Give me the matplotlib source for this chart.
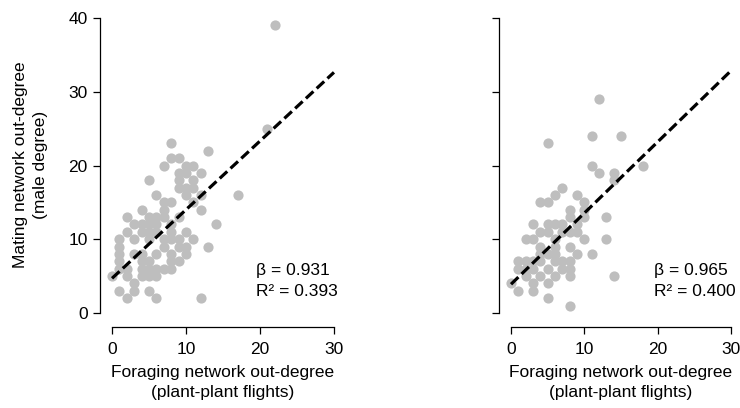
import matplotlib
matplotlib.use("Agg")
import matplotlib.pyplot as plt
import numpy as np

plt.rcParams['font.family'] = ['Liberation Sans', 'DejaVu Sans']

# Male degree vs. foraging out-degree, first network
forage_a = [22, 21, 8, 13, 8, 9, 7, 10, 11, 9, 10, 12, 5, 9, 11, 9, 10, 11, 17, 6,
            10, 12, 7, 8, 11, 12, 4, 7, 2, 5, 6, 7, 9, 14, 3, 4, 5, 6, 8, 2,
            4, 5, 6, 8, 10, 1, 5, 7, 8, 9, 13, 1, 7, 9, 10, 1, 3, 4, 6, 8,
            10, 1, 4, 5, 8, 9, 1, 2, 4, 5, 6, 8, 0, 2, 4, 5, 6, 3, 1, 3,
            5, 2, 6, 12, 3, 7, 11]
mating_a = [39, 25, 23, 22, 21, 21, 20, 20, 20, 19, 19, 19, 18, 18, 18, 17, 17, 17, 16, 16,
            16, 16, 15, 15, 15, 14, 14, 14, 13, 13, 13, 13, 13, 12, 12, 12, 12, 12, 12, 11,
            11, 11, 11, 11, 11, 10, 10, 10, 10, 10, 9, 9, 9, 9, 9, 8, 8, 8, 8, 8,
            8, 7, 7, 7, 7, 7, 6, 6, 6, 6, 6, 6, 5, 5, 5, 5, 5, 4, 3, 3,
            3, 2, 2, 2, 10, 6, 10]

# Second network
forage_b = [12, 11, 15, 5, 11, 18, 12, 14, 14, 7, 6, 9, 4, 5, 10, 8, 10, 13, 3, 5,
            6, 7, 8, 10, 2, 3, 10, 13, 4, 5, 8, 6, 8, 9, 11, 1, 2, 3, 4, 6,
            7, 8, 1, 3, 5, 7, 8, 14, 0, 3, 5, 2, 4, 6, 8, 1, 3, 5, 8, 4,
            5, 9, 6, 7, 4, 2, 6, 9]
mating_b = [29, 24, 24, 23, 20, 20, 19, 19, 18, 17, 16, 16, 15, 15, 15, 14, 14, 13, 12, 12,
            12, 12, 13, 13, 10, 10, 10, 10, 11, 11, 11, 9, 9, 8, 8, 7, 7, 7, 7, 7,
            7, 7, 6, 6, 6, 6, 6, 5, 4, 4, 4, 5, 5, 5, 5, 3, 3, 2, 1, 8,
            8, 12, 10, 11, 9, 6, 8, 11]

# Fitted slopes, fit statistics and intercepts
beta = [0.931, 0.965]
r2 = [0.393, 0.400]
intercept = [4.7, 3.9]

x_ticks = [0, 10, 20, 30]
y_ticks = [0, 10, 20, 30, 40]

FS = 12.5
W, H = 740, 408
fig = plt.figure(figsize=(W / 100, H / 100), dpi=100)

def px_axes(left, right, bottom, top):
    return fig.add_axes([left / W, (H - bottom) / H, (right - left) / W, (bottom - top) / H])

def px_text(x, y, s, **kw):
    fig.text(x / W, 1 - y / H, s, fontsize=FS, **kw)

ax_a = px_axes(100.2, 345.8, 327, 4)
ax_b = px_axes(499.3, 742.7, 327, 4)

panels = [(ax_a, forage_a, mating_a), (ax_b, forage_b, mating_b)]
for i, (ax, fx, my) in enumerate(panels):
    ax.set_xlim(-1.6, 31.6)
    ax.set_ylim(-1.9, 41.9)
    ax.scatter(fx, my, s=54, color='#BEBEBE', linewidths=0, zorder=2, clip_on=False)
    xl = np.array([0, 30])
    ax.plot(xl, intercept[i] + beta[i] * xl, color='black', lw=2.3,
            dashes=(3.2, 1.4), zorder=3)
    ax.text(19.5, 5.8, f"β = {beta[i]:.3f}", fontsize=FS, va='center', ha='left')
    ax.text(19.5, 2.85, f"R² = {r2[i]:.3f}", fontsize=FS, va='center', ha='left')

    for s in ('top', 'right'):
        ax.spines[s].set_visible(False)
    ax.spines['left'].set_bounds(0, 40)
    ax.spines['bottom'].set_bounds(0, 30)
    for s in ('left', 'bottom'):
        ax.spines[s].set_linewidth(0.9)
    ax.set_xticks(x_ticks)
    ax.set_yticks(y_ticks)
    ax.tick_params(direction='out', length=5, width=0.9, labelsize=FS)
    ax.tick_params(axis='x', pad=6)
    ax.tick_params(axis='y', pad=4)
    if i == 1:
        ax.set_yticklabels([])

# Axis titles
for cx in (223, 621):
    px_text(cx, 372, "Foraging network out-degree", ha='center', va='center')
    px_text(cx, 393, "(plant-plant flights)", ha='center', va='center')
px_text(21, 165, "Mating network out-degree", ha='center', va='center', rotation=90)
px_text(40, 165, "(male degree)", ha='center', va='center', rotation=90)

fig.savefig("out.png", dpi=100)
